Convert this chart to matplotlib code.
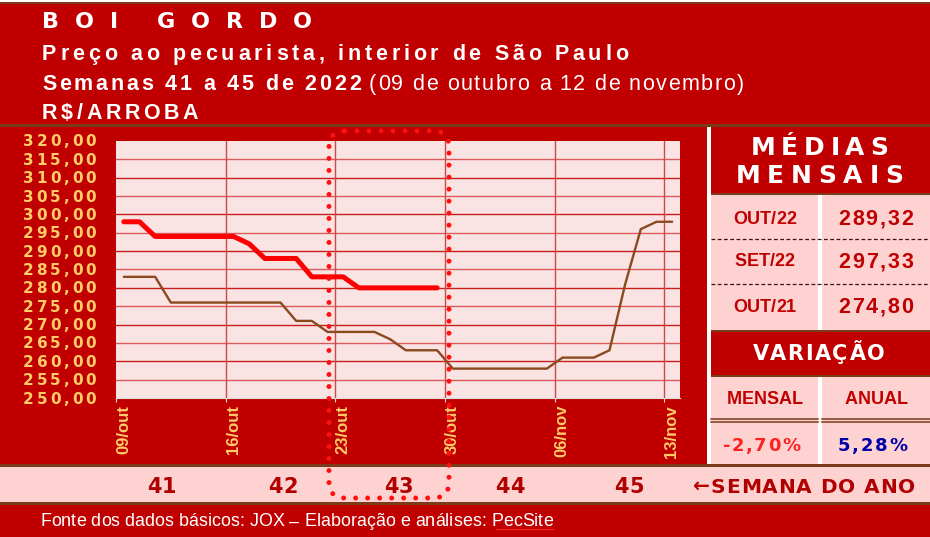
import matplotlib
matplotlib.use('Agg')
import matplotlib.pyplot as plt
from matplotlib.patches import Rectangle, FancyBboxPatch
from matplotlib.font_manager import FontProperties

# ---- dados ----
datas = ['09/out', '16/out', '23/out', '30/out', '06/nov', '13/nov']
pos_datas = [0, 7, 14, 21, 28, 35]
boi_2022 = [298, 298, 294, 294, 294, 294, 294, 294, 292, 288, 288, 288,
            283, 283, 283, 280, 280, 280, 280, 280, 280]
boi_2021 = [283, 283, 283, 276, 276, 276, 276, 276, 276, 276, 276, 271,
            271, 268, 268, 268, 268, 266, 263, 263, 263, 258, 258, 258,
            258, 258, 258, 258, 261, 261, 261, 263, 281, 296, 298, 298]
y_ticks = list(range(250, 325, 5))
semanas = ['41', '42', '43', '44', '45']
medias_rotulos = ['OUT/22', 'SET/22', 'OUT/21']
medias_valores = ['289,32', '297,33', '274,80']
variacao_rotulos = ['MENSAL', 'ANUAL']
variacao_valores = ['-2,70%', '5,28%']

W, H = 930, 537
VERMELHO = '#C00000'
ROSA = '#FFD2D2'
MARROM = '#7B3A1A'
OURO = '#FFCC66'

fig = plt.figure(figsize=(W / 100, H / 100), dpi=100)
fig.patch.set_facecolor('white')
bg = fig.add_axes([0, 0, 1, 1])
bg.set_xlim(0, W)
bg.set_ylim(H, 0)
bg.axis('off')
rend = fig.canvas.get_renderer()


def largura(s, fp):
    w, h, d = rend.get_text_width_height_descent(s, fp, ismath=False)
    return w


def escreve(ax, x, y, s, size, cor, peso='bold', familia='Liberation Sans',
            larg=None, ha='left', z=5, ajusta_tamanho=False):
    # texto com espacamento entre letras ajustado a uma largura
    fp = FontProperties(family=familia, weight=peso, size=size)
    nat = largura(s, fp)
    if ajusta_tamanho and larg:
        size = size * larg / nat
        fp = FontProperties(family=familia, weight=peso, size=size)
        nat = largura(s, fp)
    if larg is None or len(s) < 2:
        track = 0
        larg = nat
    else:
        track = (larg - nat) / (len(s) - 1)
    if ha == 'center':
        x0 = x - larg / 2
    elif ha == 'right':
        x0 = x - larg
    else:
        x0 = x
    base = y + 0.36 * size * 100 / 72
    for i, ch in enumerate(s):
        if ch == ' ':
            continue
        xi = x0 + largura(s[:i + 1], fp) - largura(ch, fp) + i * track
        ax.text(xi, base, ch, fontproperties=fp, color=cor, ha='left',
                va='baseline', zorder=z)


def caixa(x0, y0, x1, y1, cor, z=1):
    bg.add_patch(Rectangle((x0, y0), x1 - x0, y1 - y0, facecolor=cor,
                           edgecolor='none', zorder=z))


# ---- fundo ----
caixa(0, 2, W, 4, MARROM)
caixa(0, 4, W, 124, VERMELHO)
caixa(0, 124, W, 127, MARROM)
caixa(0, 127, 707, 466, VERMELHO)
caixa(707, 127, 711, 466, 'white')

# painel direito
caixa(711, 127, W, 193, VERMELHO)
caixa(711, 193, W, 195, MARROM)
caixa(711, 195, W, 330, ROSA)
caixa(818, 195, 822, 330, 'white', z=2)
for yy in [238.5, 283.5]:
    bg.plot([711, W], [yy, yy], color='#3A1010', lw=0.9, ls=(0, (3, 2)), zorder=3)
caixa(711, 330, W, 332, MARROM)
caixa(711, 332, W, 375, VERMELHO)
caixa(711, 375, W, 377, MARROM)
caixa(711, 377, W, 464, ROSA)
caixa(818, 377, 822, 464, 'white', z=2)
for yy in [418.5, 421.5]:
    bg.plot([711, 818], [yy, yy], color=MARROM, lw=1.1, zorder=3)
    bg.plot([822, W], [yy, yy], color=MARROM, lw=1.1, zorder=3)

# faixa das semanas e rodape
caixa(0, 464, W, 467, MARROM)
caixa(0, 467, W, 502, ROSA)
caixa(0, 502, W, 505, MARROM)
caixa(0, 505, W, H, VERMELHO)

# ---- cabecalho ----
escreve(bg, 42, 20, 'BOI GORDO', 16, 'white', familia='DejaVu Sans', larg=270)
escreve(bg, 42, 52, 'Preço ao pecuarista, interior de São Paulo', 15.5, 'white', larg=586)
escreve(bg, 42, 82, 'Semanas 41 a 45 de 2022', 15.5, 'white', larg=319)
escreve(bg, 369, 82, '(09 de outubro a 12 de novembro)', 15.5, 'white', peso='normal', larg=375)
escreve(bg, 42, 111, 'R$/ARROBA', 15.5, 'white', larg=156)

# ---- grafico ----
ax = fig.add_axes([116 / W, (H - 398) / H, (680 - 116) / W, (398 - 141) / H])
ax.set_facecolor('#F9E3E3')
ax.set_xlim(0, 36)
ax.set_ylim(250, 320)
for k, v in enumerate(y_ticks[1:-1]):
    ax.axhline(v, color='#C81E1E' if k % 2 else '#DC5A5A', lw=1, zorder=1)
for p in pos_datas[1:]:
    ax.axvline(p, color='#D04848', lw=1, zorder=1)
x22 = [i + 0.5 for i in range(len(boi_2022))]
x21 = [i + 0.5 for i in range(len(boi_2021))]
ax.plot(x21, boi_2021, color='#8A4A1E', lw=1.7, zorder=3,
        solid_joinstyle='round', solid_capstyle='round')
ax.plot(x22, boi_2022, color='#FF0000', lw=3.6, zorder=4,
        solid_joinstyle='round', solid_capstyle='round')
for s in ['top', 'right', 'left']:
    ax.spines[s].set_visible(False)
ax.spines['bottom'].set_color('#DDDDDD')
ax.set_yticks([])
ax.set_xticks(pos_datas)
ax.set_xticklabels(datas, rotation=90, ha='left', va='top', color=OURO,
                   fontsize=12, fontweight='bold', family='Liberation Sans')
ax.tick_params(axis='x', length=3, color='#DDDDDD', pad=2)

# rotulos do eixo y (via escala do eixo)
for v in y_ticks:
    disp = ax.transData.transform((0, v))
    yb = bg.transData.inverted().transform(disp)[1]
    escreve(bg, 96, yb, f'{v},00', 11, OURO, familia='DejaVu Sans', larg=73, ha='right')

# ---- painel de medias ----
escreve(bg, 819.5, 146, 'MÉDIAS', 18, 'white', familia='DejaVu Sans', larg=138, ha='center')
escreve(bg, 819.5, 174, 'MENSAIS', 18, 'white', familia='DejaVu Sans', larg=168, ha='center')
for yy, rot, val in zip([217, 260, 305], medias_rotulos, medias_valores):
    escreve(bg, 764.5, yy, rot, 13, VERMELHO, ha='center')
    escreve(bg, 875.5, yy, val, 15.5, VERMELHO, larg=75, ha='center')
escreve(bg, 819, 353, 'VARIAÇÃO', 15, 'white', familia='DejaVu Sans', larg=132, ha='center')
escreve(bg, 764.5, 398, variacao_rotulos[0], 13, VERMELHO, ha='center')
escreve(bg, 876, 398, variacao_rotulos[1], 13, VERMELHO, ha='center')
escreve(bg, 761.5, 444.5, variacao_valores[0], 13, '#FF2020', familia='DejaVu Sans',
        larg=77, ha='center')
escreve(bg, 872.5, 444.5, variacao_valores[1], 13, '#0000A8', familia='DejaVu Sans',
        larg=69, ha='center')

# ---- semanas ----
for xc, s in zip([162, 283, 399, 510, 629], semanas):
    escreve(bg, xc, 485.5, s, 15, '#B00000', familia='DejaVu Sans', ha='center')
escreve(bg, 693, 485.5, '←SEMANA DO ANO', 14.5, '#B00000', familia='DejaVu Sans', larg=222)

# ---- rodape ----
escreve(bg, 40, 520, 'Fonte dos dados básicos: JOX – Elaboração e análises: PecSite', 11.5,
        'white', peso='normal', larg=513, ajusta_tamanho=True)
bg.plot([496, 553], [529, 529], color='#FF2020', lw=0.8, zorder=6)

# ---- destaque pontilhado da semana 43 ----
ov = fig.add_axes([0, 0, 1, 1])
ov.set_xlim(0, W)
ov.set_ylim(H, 0)
ov.axis('off')
ov.patch.set_alpha(0)
dest = FancyBboxPatch((329, 131), 120, 367, boxstyle='round,pad=0,rounding_size=16',
                      facecolor='none', edgecolor='#FF1010', lw=3.6,
                      ls=(0, (0.001, 2.4)), zorder=10)
dest.set_capstyle('round')
ov.add_patch(dest)

fig.savefig('out.png', dpi=100, facecolor='white')
